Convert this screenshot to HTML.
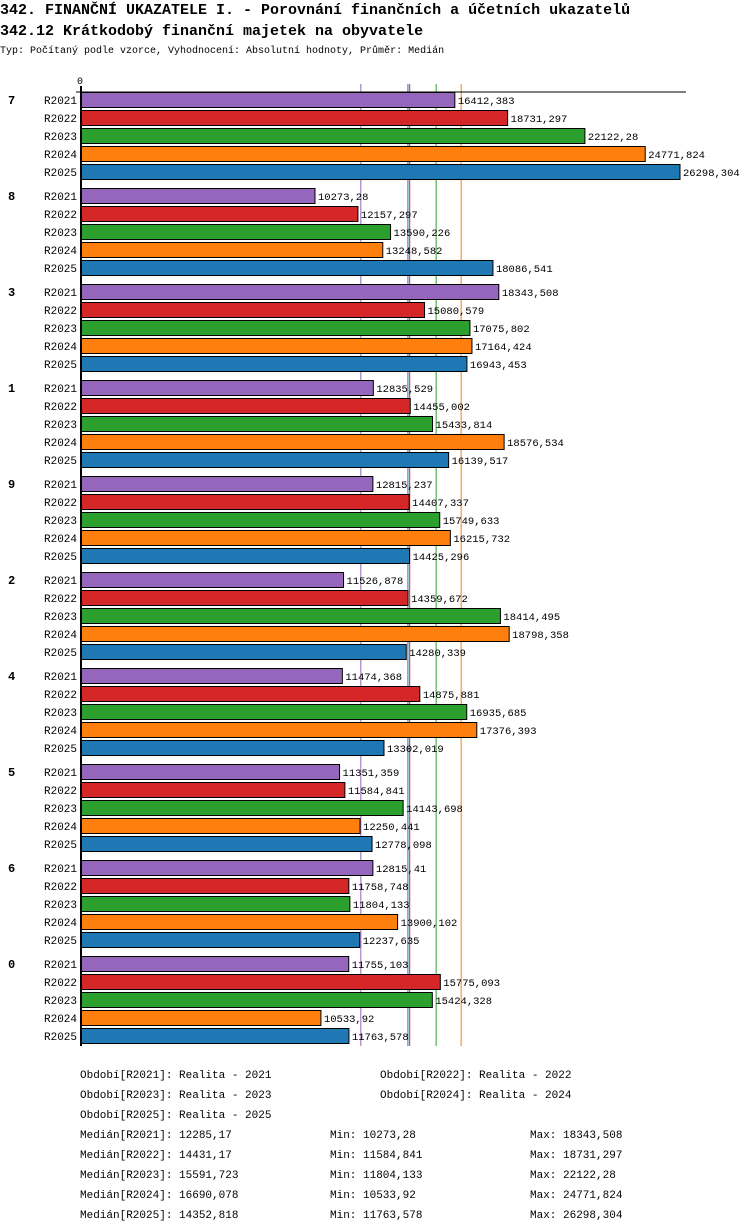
<!DOCTYPE html>
<html><head><meta charset="utf-8"><style>
body{margin:0;background:#fff;width:750px;height:1232px;overflow:hidden}
svg{display:block;font-family:"Liberation Mono","DejaVu Sans Mono",monospace}
</style></head><body>
<svg id="c" width="750" height="1232">
<text x="0" y="14" font-size="15" font-weight="bold">342. FINANČNÍ UKAZATELE I. - Porovnání finančních a účetních ukazatelů</text>
<text x="0" y="35" font-size="15" font-weight="bold">342.12 Krátkodobý finanční majetek na obyvatele</text>
<text x="0" y="53" font-size="10">Typ: Počítaný podle vzorce, Vyhodnocení: Absolutní hodnoty, Průměr: Medián</text>
<text x="77" y="84" font-size="10">0</text>
<g id="med"></g><g id="bars"></g><g id="leg"></g>
</svg>
<script>
const groups=["7","8","3","1","9","2","4","5","6","0"];
const series=["R2021","R2022","R2023","R2024","R2025"];
const colors=["#9467bd","#d62728","#2ca02c","#ff7f0e","#1f77b4"];
const values=[
[16412.383,18731.297,22122.28,24771.824,26298.304],
[10273.28,12157.297,13590.226,13248.582,18086.541],
[18343.508,15080.579,17075.802,17164.424,16943.453],
[12835.529,14455.002,15433.814,18576.534,16139.517],
[12815.237,14407.337,15749.633,16215.732,14425.296],
[11526.878,14359.672,18414.495,18798.358,14280.339],
[11474.368,14875.881,16935.685,17376.393,13302.019],
[11351.359,11584.841,14143.698,12250.441,12778.098],
[12815.41,11758.748,11804.133,13900.102,12237.635],
[11755.103,15775.093,15424.328,10533.92,11763.578]];
const medians=[12285.17,14431.17,15591.723,16690.078,14352.818];
const mins=[10273.28,11584.841,11804.133,10533.92,11763.578];
const maxs=[18343.508,18731.297,22122.28,24771.824,26298.304];
const medLabels=["12285,17","14431,17","15591,723","16690,078","14352,818"];
const x0=81,scale=(680-81)/26298.304;
const X=v=>x0+v*scale;
const ns="http://www.w3.org/2000/svg";
function mk(t,a,p,txt){const e=document.createElementNS(ns,t);for(const k in a)e.setAttribute(k,a[k]);if(txt!==undefined)e.textContent=txt;p.appendChild(e);return e;}
const fmt=v=>String(+v.toFixed(3)).replace('.',',');
const med=document.getElementById('med'),bars=document.getElementById('bars'),leg=document.getElementById('leg');
const order=[0,4,1,2,3];
order.forEach(i=>{
 const l=mk('line',{x1:X(medians[i]),x2:X(medians[i]),y1:84,y2:1046,stroke:colors[i],'stroke-width':1},med);
 
 
});
const axis=mk('line',{x1:76,x2:686,y1:92,y2:92,stroke:'#000','stroke-width':1},bars);


groups.forEach((g,gi)=>{
 const gy=92+gi*96;
 const gl=mk('text',{x:8,y:gy+12,'font-size':12,'font-weight':'bold'},bars,g);
 
 
 series.forEach((s,si)=>{
  const y=gy+si*18,v=values[gi][si];
  const sl=mk('text',{x:44,y:y+12,'font-size':11},bars,s);
  
  
  const r=mk('rect',{x:x0,y:y+0.5,width:X(v)-x0,height:15,fill:colors[si],stroke:'#000','stroke-width':1},bars);
  
  
  const vl=mk('text',{x:X(v)+3,y:y+12,'font-size':10.5},bars,fmt(v));
  
  
 });
});
const yax=mk('line',{x1:81,x2:81,y1:86,y2:1046,stroke:'#000','stroke-width':2},bars);


const names=["Realita - 2021","Realita - 2022","Realita - 2023","Realita - 2024","Realita - 2025"];
series.forEach((s,i)=>{
 const t=mk('text',{x:80+(i%2)*300,y:1078+Math.floor(i/2)*20,'font-size':11},leg,'Období['+s+']: '+names[i]);
 
 
});
series.forEach((s,i)=>{
 const y=1138+i*20;
 const a=mk('text',{x:80,y:y,'font-size':11},leg,'Medián['+s+']: '+medLabels[i]);
 
 
 const b=mk('text',{x:330,y:y,'font-size':11},leg,'Min: '+fmt(mins[i]));
 
 
 const c=mk('text',{x:530,y:y,'font-size':11},leg,'Max: '+fmt(maxs[i]));
 
 
});
</script>
</body></html>
